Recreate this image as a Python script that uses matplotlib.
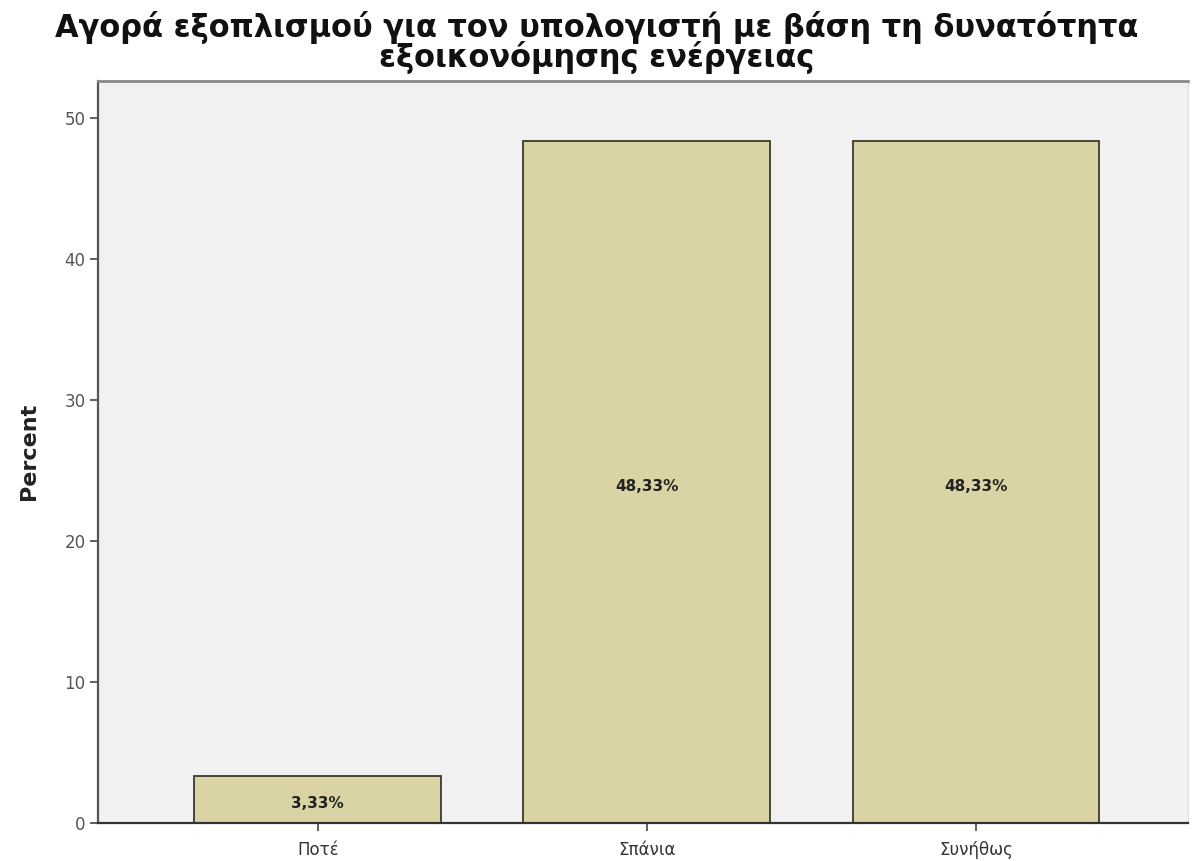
import matplotlib
matplotlib.use("Agg")
import matplotlib.pyplot as plt
import numpy as np

categories = ["Ποτέ", "Σπάνια", "Συνήθως"]
percents = [3.33, 48.33, 48.33]
yticks = [0, 10, 20, 30, 40, 50]
title = "Αγορά εξοπλισμού για τον υπολογιστή με βάση τη δυνατότητα\nεξοικονόμησης ενέργειας"

plt.rcParams['font.family'] = ['DejaVu Sans']

fig = plt.figure(figsize=(11.93, 8.61), dpi=100)
ax = fig.add_axes([0.0821, 0.0445, 0.9137, 0.8615])
ax.set_facecolor("#f1f1f1")

x = np.arange(len(categories))
bars = ax.bar(x, percents, width=0.75, color="#dad4a4", edgecolor="#3a3a30", linewidth=1.3, zorder=2)

for xi, v in zip(x, percents):
    ax.text(xi, v / 2 - 0.3, f"{v:.2f}%".replace(".", ","), ha="center", va="center",
            fontsize=11, fontweight="bold", color="#222222", zorder=3)

ax.set_xlim(-0.668, 2.644)
ax.set_ylim(0, 52.6)
ax.set_xticks(x)
ax.set_xticklabels(categories, fontsize=12, color="#333333")
ax.set_yticks(yticks)
ax.set_yticklabels([str(t) for t in yticks], fontsize=12, color="#555555")
ax.tick_params(axis="both", direction="out", length=6, width=1.2, color="#444444")
ax.tick_params(axis="x", pad=7)
ax.tick_params(axis="y", pad=3)

ax.spines["left"].set_color("#555555")
ax.spines["left"].set_linewidth(1.6)
ax.spines["bottom"].set_color("#333333")
ax.spines["bottom"].set_linewidth(1.6)
ax.spines["top"].set_color("#8a8a8a")
ax.spines["top"].set_linewidth(2.0)
ax.spines["right"].set_color("#dddddd")

ax.set_ylabel("Percent", fontsize=16, fontweight="bold", color="#222222", labelpad=18)

fig.text(0.5, 0.951, title, ha="center", va="center", fontsize=22,
         fontweight="bold", color="#111111", linespacing=0.88)

fig.savefig("out.png", dpi=100)
